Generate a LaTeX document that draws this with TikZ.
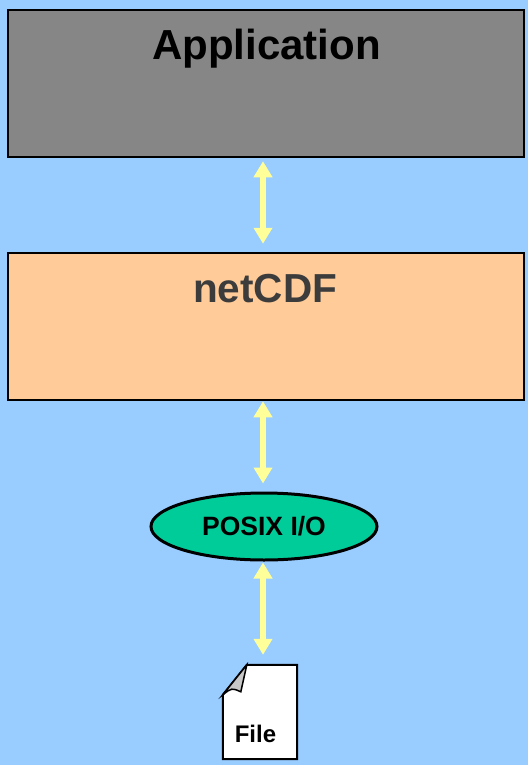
\documentclass[tikz,border=0pt]{standalone}
\usepackage{fontspec}
\setmainfont{Liberation Sans}
\usetikzlibrary{arrows.meta,shapes.geometric}
\definecolor{bgblue}{HTML}{99CCFF}
\definecolor{appgray}{HTML}{868686}
\definecolor{netorange}{HTML}{FFCC99}
\definecolor{posixgreen}{HTML}{00CC99}
\definecolor{arrowyellow}{HTML}{FFFF99}
\definecolor{foldgray}{HTML}{C8C8C8}
\definecolor{nettext}{HTML}{3C3C3C}
\tikzset{
	layer/.style={draw=black, line width=2.5pt, minimum width=516pt, minimum height=147pt, inner sep=0pt},
	dbl/.style={draw=arrowyellow, line width=5.5pt, {Triangle[width=18pt,length=16pt]}-{Triangle[width=18pt,length=16pt]}}
}
\begin{document}
\begin{tikzpicture}[x=1pt,y=-1pt]
			\fill[bgblue] (0,0) rectangle (528,765);
			\node[layer, fill=appgray] (app) at (266,83.5) {};
			\node[anchor=base, font=\bfseries\fontsize{42}{42}\selectfont] (apptext) at (266.5,60) {Application};
			\node[layer, fill=netorange] (net) at (266,326.5) {};
			\node[anchor=base, text=nettext, font=\bfseries\fontsize{40.5}{40.5}\selectfont] (nettext) at (265,302) {netCDF};
			\node[ellipse, draw=black, line width=3pt, fill=posixgreen, minimum width=226pt, minimum height=67pt, inner sep=0pt, font=\bfseries\fontsize{26.5}{26.5}\selectfont] (posix) at (264,526.5) {POSIX I/O};
			\node[minimum width=74pt, minimum height=94pt, inner sep=0pt] (file) at (260,712) {};
			\draw[fill=white, line width=2pt] ([yshift=-30pt]file.north west) -- ([xshift=24pt]file.north west) -- (file.north east) -- (file.south east) -- (file.south west) -- cycle;
			\draw[fill=foldgray, line width=1.5pt] ([yshift=-30pt]file.north west) .. controls ([xshift=9pt,yshift=-23pt]file.north west) .. ([xshift=18pt,yshift=-27pt]file.north west) -- ([xshift=24pt]file.north west) -- cycle;
			\node[anchor=base, font=\bfseries\fontsize{24}{24}\selectfont] (filetext) at (255.5,742) {File};
			\draw[dbl, shorten <=3pt, shorten >=8pt] ([xshift=-3pt]app.south) -- ([xshift=-3pt]net.north);
			\draw[dbl, shorten <=0pt, shorten >=8pt] ([xshift=-3pt]net.south) -- ([xshift=-1pt]posix.north);
			\draw[dbl, shorten <=1pt, shorten >=10pt] ([xshift=-1pt]posix.south) -- ([xshift=3pt]file.north);
\end{tikzpicture}
\end{document}
